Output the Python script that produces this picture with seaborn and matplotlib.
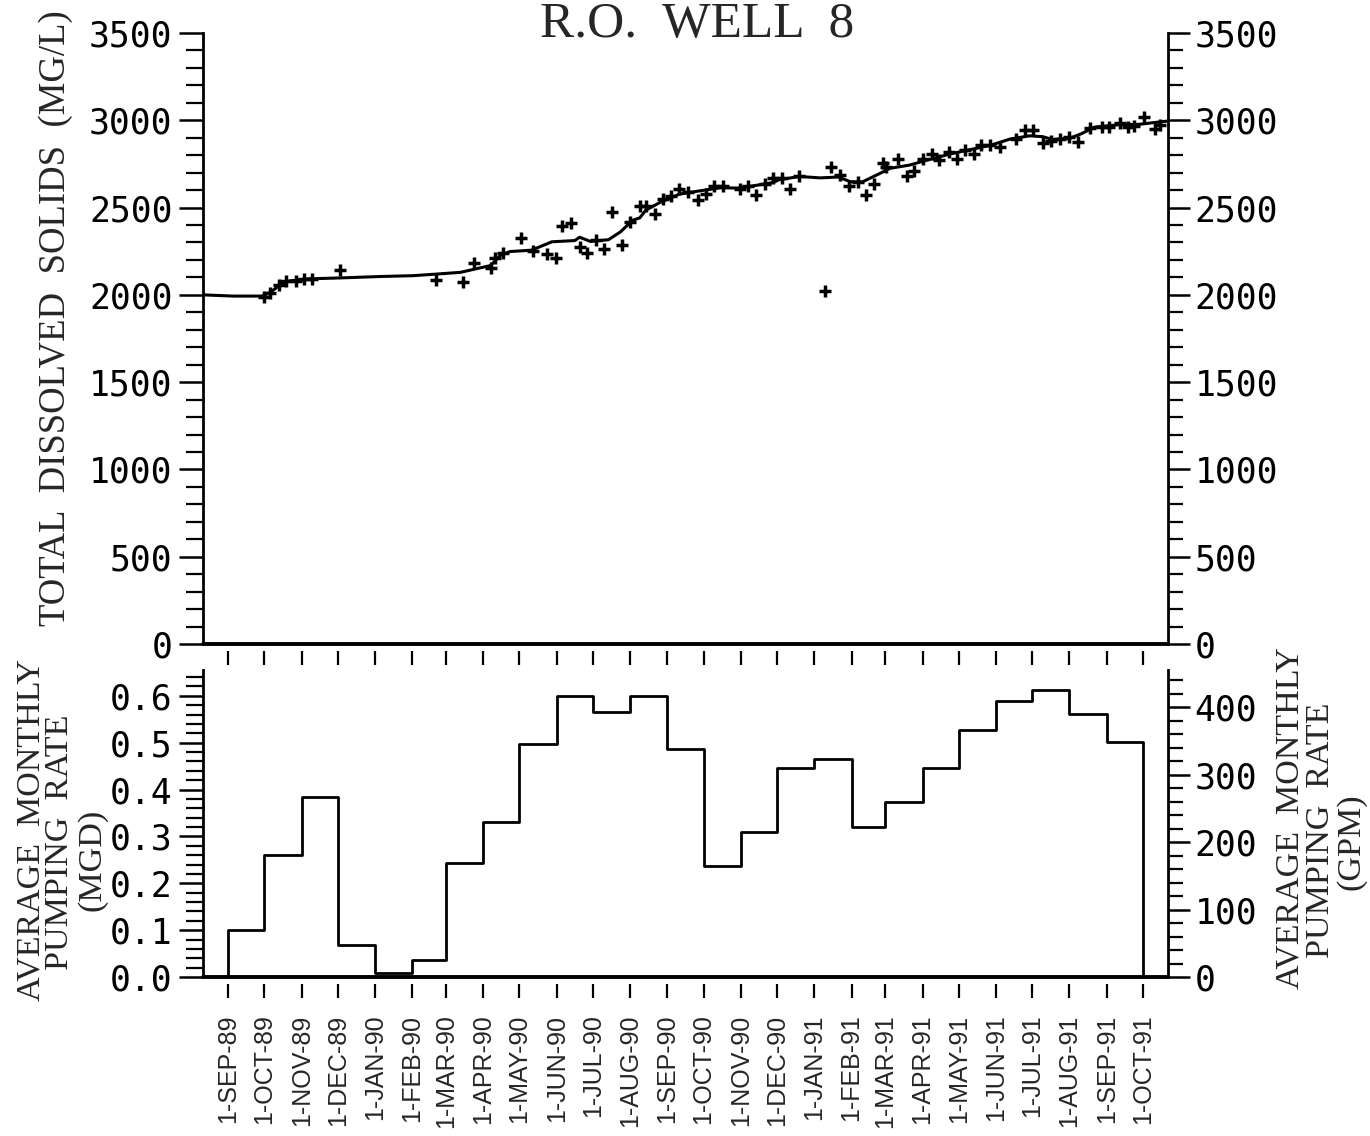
import matplotlib
matplotlib.use("Agg")
import matplotlib.pyplot as plt
import matplotlib.ticker as mticker
import pandas as pd
import seaborn as sns

# ---------------- data ----------------
# individual TDS samples (mg/L)
sample_dates = [
    "1989-10-01", "1989-10-06", "1989-10-13", "1989-10-19", "1989-10-27", "1989-11-03",
    "1989-11-10", "1989-12-03", "1990-02-21", "1990-03-15", "1990-03-24", "1990-04-07",
    "1990-04-11", "1990-04-17", "1990-05-02", "1990-05-12", "1990-05-24", "1990-05-31",
    "1990-06-05", "1990-06-13", "1990-06-20", "1990-06-26", "1990-07-04", "1990-07-10",
    "1990-07-17", "1990-07-25", "1990-08-01", "1990-08-09", "1990-08-14", "1990-08-22",
    "1990-08-28", "1990-09-04", "1990-09-11", "1990-09-18", "1990-09-26", "1990-10-03",
    "1990-10-10", "1990-10-17", "1990-10-31", "1990-11-07", "1990-11-14", "1990-11-21",
    "1990-11-28", "1990-12-05", "1990-12-12", "1990-12-19", "1991-01-10", "1991-01-15",
    "1991-01-22", "1991-01-30", "1991-02-06", "1991-02-13", "1991-02-20", "1991-02-27",
    "1991-03-02", "1991-03-12", "1991-03-19", "1991-03-25", "1991-04-01", "1991-04-09",
    "1991-04-15", "1991-04-23", "1991-04-30", "1991-05-06", "1991-05-14", "1991-05-20",
    "1991-05-27", "1991-06-04", "1991-06-18", "1991-06-25", "1991-07-02", "1991-07-10",
    "1991-07-17", "1991-07-24", "1991-08-01", "1991-08-08", "1991-08-18", "1991-08-28",
    "1991-09-03", "1991-09-12", "1991-09-19", "1991-09-24", "1991-10-02", "1991-10-11",
    "1991-10-15",
]
sample_tds = [
    1985, 2009, 2056, 2081, 2080, 2093,
    2093, 2144, 2086, 2075, 2183, 2155,
    2213, 2242, 2325, 2254, 2232, 2212,
    2393, 2413, 2272, 2241, 2316, 2260,
    2476, 2285, 2416, 2509, 2509, 2464,
    2550, 2568, 2606, 2592, 2542, 2576,
    2626, 2623, 2606, 2625, 2572, 2635,
    2667, 2670, 2609, 2678, 2020, 2730,
    2687, 2622, 2647, 2574, 2634, 2754,
    2734, 2778, 2680, 2708, 2780, 2808,
    2770, 2817, 2778, 2831, 2806, 2857,
    2857, 2848, 2893, 2946, 2946, 2872,
    2883, 2890, 2902, 2875, 2957, 2964,
    2964, 2983, 2963, 2970, 3016, 2948,
    2975,
]

# smoothed TDS trend (mg/L)
trend_dates = [
    "1989-08-11", "1989-09-05", "1989-09-29", "1989-10-06", "1989-10-14", "1989-10-22",
    "1989-11-08", "1989-12-03", "1990-01-05", "1990-02-02", "1990-02-21", "1990-03-13",
    "1990-04-07", "1990-04-15", "1990-04-23", "1990-05-11", "1990-05-28", "1990-06-16",
    "1990-06-20", "1990-06-29", "1990-07-14", "1990-07-24", "1990-08-03", "1990-08-09",
    "1990-08-14", "1990-08-26", "1990-09-11", "1990-09-28", "1990-10-15", "1990-10-31",
    "1990-11-17", "1990-11-28", "1990-12-03", "1990-12-20", "1991-01-06", "1991-01-21",
    "1991-01-31", "1991-02-10", "1991-02-25", "1991-03-05", "1991-03-21", "1991-04-07",
    "1991-04-24", "1991-05-10", "1991-05-27", "1991-06-13", "1991-06-29", "1991-07-10",
    "1991-07-18", "1991-08-01", "1991-08-11", "1991-08-22", "1991-09-12", "1991-09-28",
    "1991-10-21",
]
trend_tds = [
    2000, 1993, 1993, 2015, 2056, 2080,
    2092, 2097, 2105, 2110, 2119, 2129,
    2168, 2225, 2248, 2256, 2304, 2311,
    2330, 2306, 2316, 2361, 2427, 2441,
    2485, 2530, 2577, 2596, 2613, 2612,
    2631, 2644, 2660, 2678, 2670, 2675,
    2648, 2647, 2697, 2725, 2743, 2776,
    2807, 2831, 2856, 2893, 2911, 2906,
    2890, 2896, 2923, 2961, 2975, 2977,
    2995,
]

# average monthly pumping rate (MGD), SEP-89 .. SEP-91
month_starts = pd.date_range("1989-09-01", "1991-10-01", freq="MS")
pumping_mgd = [
    0.100, 0.260, 0.385, 0.068, 0.009, 0.037, 0.243, 0.331, 0.497,
    0.600, 0.565, 0.600, 0.486, 0.236, 0.310, 0.445, 0.466, 0.321,
    0.374, 0.445, 0.526, 0.589, 0.613, 0.562, 0.501,
]
month_labels = [
    "1-SEP-89", "1-OCT-89", "1-NOV-89", "1-DEC-89", "1-JAN-90", "1-FEB-90",
    "1-MAR-90", "1-APR-90", "1-MAY-90", "1-JUN-90", "1-JUL-90", "1-AUG-90",
    "1-SEP-90", "1-OCT-90", "1-NOV-90", "1-DEC-90", "1-JAN-91", "1-FEB-91",
    "1-MAR-91", "1-APR-91", "1-MAY-91", "1-JUN-91", "1-JUL-91", "1-AUG-91",
    "1-SEP-91", "1-OCT-91",
]
MGD_TO_GPM = 694.44

# ---------------- style ----------------
sns.set_style("ticks")
plt.rcParams["font.family"] = ["DejaVu Sans Mono", "DejaVu Sans"]
plt.rcParams["axes.linewidth"] = 2.0
plt.rcParams["axes.edgecolor"] = "black"

W, H = 1370, 1136
fig = plt.figure(figsize=(W / 100, H / 100), dpi=100)
fig.patch.set_facecolor("white")

x_min = pd.Timestamp("1989-08-11")
x_max = pd.Timestamp("1991-10-22")

ax1 = fig.add_axes([203 / W, 1 - 644 / H, 965 / W, 611 / H])
ax2 = fig.add_axes([203 / W, 1 - 977 / H, 965 / W, 307 / H])

SERIF = ["Liberation Serif", "DejaVu Serif"]
TICK_FS = 25

# ---------------- top panel: TDS ----------------
samples = pd.DataFrame({"date": pd.to_datetime(sample_dates), "tds": sample_tds})
trend = pd.DataFrame({"date": pd.to_datetime(trend_dates), "tds": trend_tds})

sns.lineplot(data=trend, x="date", y="tds", color="black", linewidth=2.2,
             estimator=None, sort=False, ax=ax1)
sns.scatterplot(data=samples, x="date", y="tds", marker="+", s=75,
                color="black", linewidth=2.5, ax=ax1, zorder=3)

ax1.set_xlim(x_min, x_max)
ax1.set_ylim(0, 3500)
ax1.axhline(0, color="black", linewidth=2.8, clip_on=False, zorder=4)

# ---------------- bottom panel: pumping rate ----------------
step_dates = [x_min] + list(month_starts) + [x_max]
step_vals = [0.0] + pumping_mgd + [0.0, 0.0]
pump = pd.DataFrame({"date": step_dates, "mgd": step_vals})
sns.lineplot(data=pump, x="date", y="mgd", color="black", linewidth=2.0,
             drawstyle="steps-post", estimator=None, sort=False, ax=ax2)
ax2.set_xlim(x_min, x_max)
ax2.set_ylim(0, 0.655)
ax2.axhline(0, color="black", linewidth=2.8, clip_on=False, zorder=4)

# ---------------- axes cosmetics ----------------
for ax in (ax1, ax2):
    ax.set_xlabel("")
    ax.set_ylabel("")
    ax.spines["top"].set_visible(False)
    ax.spines["right"].set_visible(False)
    ax.spines["bottom"].set_position(("outward", 5))
    ax.spines["bottom"].set_visible(False)
    ax.set_xticks(month_starts)
    ax.tick_params(axis="x", which="major", direction="out", length=10,
                   width=1.6, color="black")
    ax.tick_params(axis="y", which="major", direction="out", length=17,
                   width=1.8, pad=5, labelsize=TICK_FS, colors="black")
    ax.tick_params(axis="y", which="minor", direction="out", length=12,
                   width=1.6, color="black")

ax1.set_xticklabels([])
ax2.set_xticklabels(month_labels, rotation=90, fontsize=18,
                    fontfamily=["Liberation Sans", "DejaVu Sans"])
ax2.tick_params(axis="x", pad=12)

ax1.yaxis.set_major_locator(mticker.MultipleLocator(500))
ax1.yaxis.set_minor_locator(mticker.MultipleLocator(100))
ax2.yaxis.set_major_locator(mticker.FixedLocator([0, 0.1, 0.2, 0.3, 0.4, 0.5, 0.6]))
ax2.yaxis.set_minor_locator(mticker.MultipleLocator(0.02))
ax2.yaxis.set_major_formatter(mticker.FormatStrFormatter("%.1f"))

# right-hand axes
ax1r = ax1.twinx()
ax1r.set_ylim(0, 3500)
ax1r.yaxis.set_major_locator(mticker.MultipleLocator(500))
ax1r.yaxis.set_minor_locator(mticker.MultipleLocator(100))

ax2r = ax2.twinx()
ax2r.set_ylim(0, 0.655 * MGD_TO_GPM)
ax2r.yaxis.set_major_locator(mticker.FixedLocator([0, 100, 200, 300, 400]))
ax2r.yaxis.set_minor_locator(mticker.MultipleLocator(20))

for axr in (ax1r, ax2r):
    for side in ("left", "top", "bottom"):
        axr.spines[side].set_visible(False)
    axr.spines["right"].set_linewidth(2.0)
    axr.tick_params(axis="y", which="major", direction="out", length=16,
                    width=1.8, pad=3, labelsize=TICK_FS, colors="black")
    axr.tick_params(axis="y", which="minor", direction="out", length=11,
                    width=1.6, color="black")

# ---------------- titles and axis labels ----------------
fig.text(697 / W, 1 - 37 / H, "R.O.  WELL  8", ha="center", va="baseline",
         fontsize=37, fontfamily=SERIF)

fig.text(56 / W, 1 - 318 / H, "TOTAL  DISSOLVED  SOLIDS  (MG/L)", rotation=90,
         ha="center", va="center", fontsize=26.5, fontfamily=SERIF)

for xc, yc, txt in [(31, 830, "AVERAGE  MONTHLY"), (60, 842, "PUMPING  RATE"),
                    (92, 860, "(MGD)")]:
    fig.text(xc / W, 1 - yc / H, txt, rotation=90, ha="center", va="center",
             fontsize=24.5, fontfamily=SERIF)

for xc, yc, txt in [(1290, 818, "AVERAGE  MONTHLY"), (1321, 830, "PUMPING  RATE"),
                    (1351, 842, "(GPM)")]:
    fig.text(xc / W, 1 - yc / H, txt, rotation=90, ha="center", va="center",
             fontsize=24.5, fontfamily=SERIF)

fig.savefig("out.png", dpi=100, facecolor="white")
